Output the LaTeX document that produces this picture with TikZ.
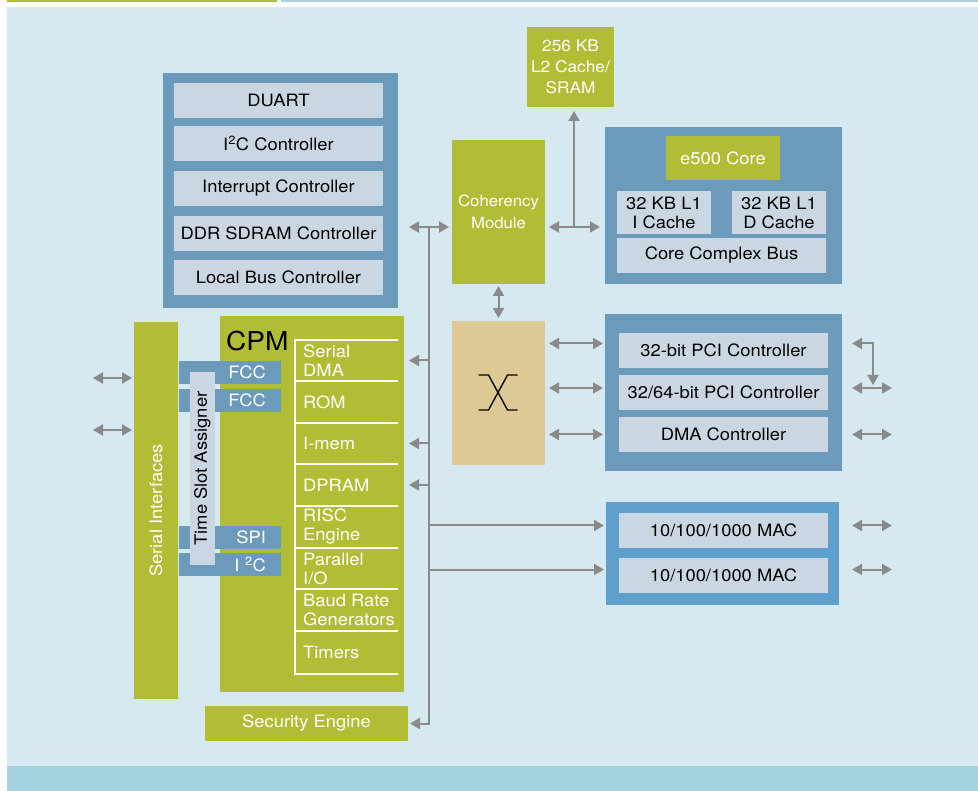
\documentclass[tikz,border=0pt]{standalone}
\usepackage{fontspec}
\setmainfont{TeX Gyre Heros}[FakeStretch=1.08]
\usetikzlibrary{arrows.meta}

\definecolor{verde}{HTML}{B1BE35}
\definecolor{azulaco}{HTML}{6B9ABA}
\definecolor{cinzaazul}{HTML}{CAD7E2}
\definecolor{fundo}{HTML}{D6E9F1}
\definecolor{faixa}{HTML}{A5D3E0}
\definecolor{bege}{HTML}{DCC993}
\definecolor{azulmac}{HTML}{5F9FCC}
\definecolor{cinzaseta}{HTML}{8A8A8A}

\tikzset{
  caixa/.style={rectangle, inner sep=0pt, outer sep=0pt, align=center, font=\fontsize{17}{19}\selectfont},
  cinza/.style={caixa, fill=cinzaazul, text=black, minimum width=209pt, minimum height=35pt},
  verdebox/.style={caixa, fill=verde, text=white},
  azulbox/.style={caixa, fill=azulaco, text=white, minimum width=102pt, minimum height=23pt, text width=72pt, align=right},
  celula/.style={anchor=west, inner sep=0pt, align=left, text=white, font=\fontsize{17}{19}\selectfont},
  seta/.style={-{Triangle[length=10pt,width=11pt]}, draw=cinzaseta, line width=2pt},
  setadupla/.style={{Triangle[length=10pt,width=11pt]}-{Triangle[length=10pt,width=11pt]}, draw=cinzaseta, line width=2pt}
}

\begin{document}
\begin{tikzpicture}[x=1pt,y=-1pt]

% Fundo
\fill[white] (0,0) rectangle (978,791);
\fill[verde] (7,0) rectangle (277,2.5);
\fill[faixa] (281,0) rectangle (978,2.5);
\fill[fundo] (7,7) rectangle (978,766);
\fill[faixa] (7,766) rectangle (978,791);
\useasboundingbox (0,0) rectangle (978,791);

% Perifericos
\node[caixa, fill=azulaco, minimum width=235pt, minimum height=235pt] (per) at (280.5,190.5) {};
\node[cinza] (duart) at (278.5,100.5) {DUART};
\node[cinza] (iic) at (278.5,143.5) {I\textsuperscript{2}C Controller};
\node[cinza] (intc) at (278.5,188.5) {Interrupt Controller};
\node[cinza] (ddr) at (278.5,233.5) {DDR SDRAM Controller};
\node[cinza] (lbc) at (278.5,277.5) {Local Bus Controller};

% L2 e coerencia
\node[verdebox, minimum width=87pt, minimum height=80pt, font=\fontsize{16}{21}\selectfont] (l2) at (570.5,67) {256 KB\\L2 Cache/\\SRAM};
\node[verdebox, minimum width=93pt, minimum height=144pt, font=\fontsize{15.5}{22}\selectfont] (coh) at (498.5,212) {Coherency\\Module};

% Nucleo e500
\node[caixa, fill=azulaco, minimum width=237pt, minimum height=157pt] (core) at (723.5,205.5) {};
\node[verdebox, minimum width=114pt, minimum height=44pt] (e500) at (723,158) {e500 Core};
\node[cinza, minimum width=94pt, minimum height=43pt] (icache) at (664,212.5) {32 KB L1\\I Cache};
\node[cinza, minimum width=94pt, minimum height=43pt] (dcache) at (779,212.5) {32 KB L1\\D Cache};
\node[cinza] (ccb) at (721.5,255.5) {Core Complex Bus};

% Chave
\node[caixa, fill=bege, minimum width=93pt, minimum height=144pt] (sw) at (498.5,393) {};
\draw[line width=1.4pt] ([shift={(-20,-18)}]sw.center) -- ++(10,0) -- ++(19,35) -- ++(10,0);
\draw[line width=1.4pt] ([shift={(-20,17)}]sw.center) -- ++(10,0) -- ++(19,-35) -- ++(10,0);

% PCI
\node[caixa, fill=azulaco, minimum width=237pt, minimum height=157pt] (pcibox) at (723.5,392.5) {};
\node[cinza] (pci1) at (723.5,350.5) {32-bit PCI Controller};
\node[cinza] (pci2) at (723.5,392.5) {32/64-bit PCI Controller};
\node[cinza] (dma) at (723.5,434.5) {DMA Controller};

% MAC
\node[caixa, fill=azulmac, minimum width=233pt, minimum height=103pt] (macbox) at (722.5,553.5) {};
\node[cinza] (mac1) at (723.5,530.5) {10/100/1000 MAC};
\node[cinza] (mac2) at (723.5,575.5) {10/100/1000 MAC};

% CPM
\node[verdebox, minimum width=184pt, minimum height=376pt] (cpm) at (312,504) {};
\node[anchor=base west, inner sep=0pt, font=\fontsize{26}{30}\selectfont] (cpmtit) at (226,351) {CPM};
\draw[white, line width=1.5pt] (398,340) -- (295,340) -- (295,674) -- (398,674);
\draw[white, line width=1.5pt] (295,381) -- (398,381) (295,423) -- (398,423) (295,464) -- (398,464)
  (295,506) -- (398,506) (295,548) -- (398,548) (295,589) -- (398,589) (295,631) -- (398,631);
\node[celula] (sdma) at (303,360.5) {Serial\\DMA};
\node[celula] (rom) at (303,402) {ROM};
\node[celula] (imem) at (303,443.5) {I-mem};
\node[celula] (dpram) at (303,485) {DPRAM};
\node[celula] (risc) at (303,527) {RISC\\Engine};
\node[celula] (pio) at (303,568.5) {Parallel\\I/O};
\node[celula] (brg) at (303,610) {Baud Rate\\Generators};
\node[celula] (tim) at (303,652.5) {Timers};

% Controladores seriais
\node[azulbox] (fcc1) at (230,372.5) {FCC};
\node[azulbox] (fcc2) at (230,400.5) {FCC};
\node[azulbox] (spi) at (230,537.5) {SPI};
\node[azulbox] (iic2) at (230,564.5) {I \textsuperscript{2}C};
\node[caixa, fill=cinzaazul, minimum width=25pt, minimum height=193pt] (tsa) at (202.5,468.5) {};
\node[rotate=90, inner sep=0pt, font=\fontsize{17}{19}\selectfont] (tsatxt) at (tsa.center) {Time Slot Assigner};

% Interfaces seriais
\node[verdebox, minimum width=44pt, minimum height=377pt] (si) at (156,510.5) {};
\node[rotate=90, inner sep=0pt, text=white, font=\fontsize{17}{19}\selectfont] (sitxt) at (si.center) {Serial Interfaces};

% Motor de seguranca
\node[verdebox, minimum width=203pt, minimum height=35pt] (sec) at (306.5,723.5) {Security Engine};

% Pontos livres
\coordinate (bt) at (429,227);
\coordinate (l2j) at (574,227);
\coordinate (canto) at (873,343.5);
\coordinate (ext) at (892,0);
\coordinate (si1) at (93,378);
\coordinate (si2) at (93,430);
\coordinate (a1) at ([yshift=7pt]pci1.center);
\coordinate (a2) at ([yshift=4.5pt]pci2.center);
\coordinate (m1) at ([yshift=5pt]mac1.center);
\coordinate (m2) at ([yshift=6pt]mac2.center);

% Barramento
\draw[seta, shorten >=2pt] (bt) |- (sec.east);
\draw[setadupla, shorten <=11pt, shorten >=3pt] (per.east |- bt) -- (coh.west |- bt);
\draw[seta, shorten >=5pt] (bt |- sdma) -- (cpm.east |- sdma);
\draw[seta, shorten >=5pt] (bt |- imem) -- (cpm.east |- imem);
\draw[seta, shorten >=5pt] (bt |- dpram) -- (cpm.east |- dpram);
\draw[seta, shorten >=2pt] (bt |- m1) -- (macbox.west |- m1);
\draw[seta, shorten >=2pt] (bt |- m2) -- (macbox.west |- m2);

% Coerencia, L2 e nucleo
\draw[setadupla, shorten <=4pt, shorten >=5pt] (coh.east |- bt) -- (core.west |- bt);
\draw[seta, shorten >=4pt] (l2j) -- (l2j |- l2.south);
\draw[setadupla, shorten <=2pt, shorten >=3pt] (coh.south) -- (sw.north);

% Chave e PCI
\draw[setadupla, shorten <=4pt, shorten >=2pt] (sw.east |- a1) -- (pcibox.west |- a1);
\draw[setadupla, shorten <=4pt, shorten >=2pt] (sw.east |- a2) -- (pcibox.west |- a2);
\draw[setadupla, shorten <=4pt, shorten >=2pt] (sw.east |- dma) -- (pcibox.west |- dma);

% Saidas externas
\draw[setadupla, shorten <=3pt, shorten >=10pt] (canto |- a2) |- (pcibox.east |- a1);
\draw[setadupla, shorten <=10pt] (pcibox.east |- a2) -- (ext |- a2);
\draw[setadupla, shorten <=10pt] (pcibox.east |- dma) -- (ext |- dma);
\draw[setadupla, shorten <=13pt] (macbox.east |- m1) -- (ext |- m1);
\draw[setadupla, shorten <=13pt] (macbox.east |- m2) -- (ext |- m2);
\draw[setadupla, shorten >=2pt] (si1) -- (si.west |- si1);
\draw[setadupla, shorten >=2pt] (si2) -- (si.west |- si2);

\end{tikzpicture}
\end{document}
